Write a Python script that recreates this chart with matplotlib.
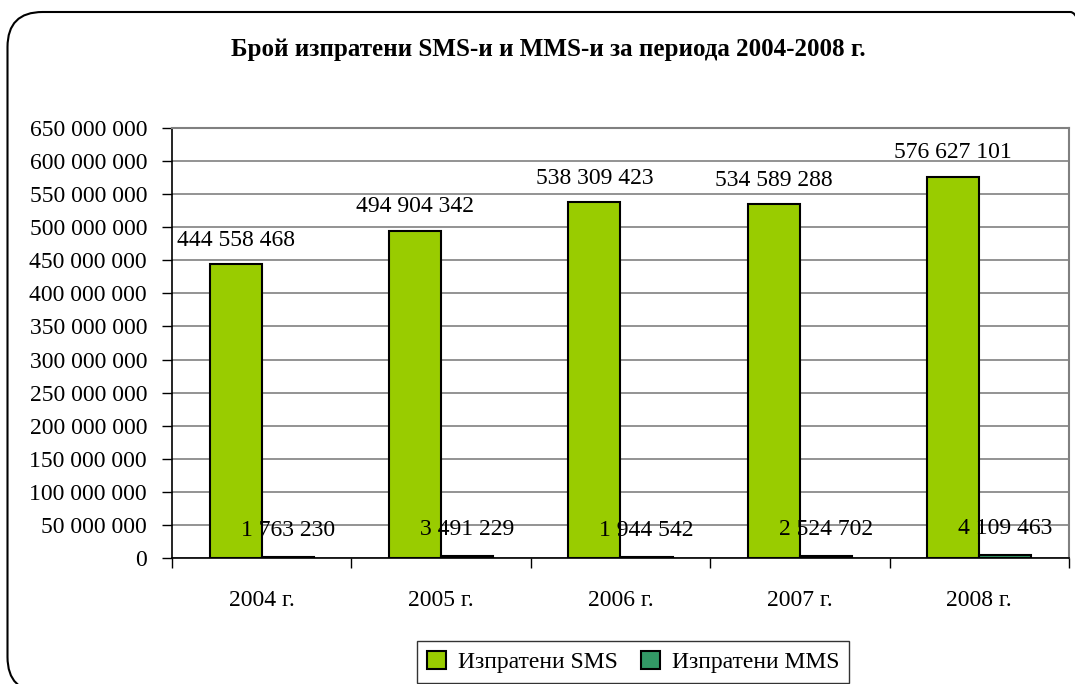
import matplotlib.pyplot as plt
import numpy as np
from matplotlib.patches import FancyBboxPatch
from matplotlib.ticker import FuncFormatter, FixedLocator

years = ["2004 г.", "2005 г.", "2006 г.", "2007 г.", "2008 г."]
sms = [444558468, 494904342, 538309423, 534589288, 576627101]
mms = [1763230, 3491229, 1944542, 2524702, 4109463]

SMS_COLOR = "#99CC00"
MMS_COLOR = "#339966"
FS = 17

plt.rcParams['font.family'] = ['Liberation Serif', 'DejaVu Serif']


def spaced(v, pos=None):
    return "{:,}".format(int(v)).replace(",", " ")


fig = plt.figure(figsize=(10.75, 6.84), dpi=100)
ax = fig.add_axes([0.16, 0.1842, 0.8344, 0.6287])

x = np.arange(len(years))
w = 0.29
b1 = ax.bar(x - w / 2, sms, w, color=SMS_COLOR, edgecolor="black", linewidth=1.5,
            label="Изпратени SMS", zorder=3)
b2 = ax.bar(x + w / 2, mms, w, color=MMS_COLOR, edgecolor="black", linewidth=1.5,
            label="Изпратени MMS", zorder=3)

for rect, v in zip(b1, sms):
    ax.annotate(spaced(v), (rect.get_x() + rect.get_width() / 2, v),
                xytext=(0, 17), textcoords="offset points",
                ha="center", va="center", fontsize=FS, zorder=5)
for rect, v in zip(b2, mms):
    ax.annotate(spaced(v), (rect.get_x() + rect.get_width() / 2, v),
                xytext=(0, 19), textcoords="offset points",
                ha="center", va="center", fontsize=FS, zorder=5)

ax.set_xlim(-0.5, len(years) - 0.5)
ax.set_ylim(0, 650000000)
ax.set_yticks(np.arange(0, 650000001, 50000000))
ax.yaxis.set_major_formatter(FuncFormatter(spaced))
ax.yaxis.grid(True, color="#808080", linewidth=1.2, zorder=0)

ax.set_xticks(x)
ax.set_xticklabels(years)
ax.xaxis.set_minor_locator(FixedLocator(np.arange(-0.5, len(years), 1.0)))
ax.tick_params(axis="x", which="major", length=0, pad=23, labelsize=FS)
ax.tick_params(axis="x", which="minor", length=7, width=1, direction="out")
ax.tick_params(axis="y", length=7, width=1, direction="out", pad=11, labelsize=FS)

ax.spines["top"].set_color("#808080")
ax.spines["right"].set_color("#808080")
ax.spines["top"].set_linewidth(1.5)
ax.spines["right"].set_linewidth(1.5)
ax.spines["left"].set_linewidth(1.2)
ax.spines["bottom"].set_linewidth(1.2)

fig.text(0.51, 0.927, "Брой изпратени SMS-и и MMS-и за периода 2004-2008 г.",
         ha="center", va="center", fontsize=18, fontweight="bold")

leg = fig.legend(handles=[b1, b2], loc="center", bbox_to_anchor=(0.589, 0.0325),
                 ncol=2, fontsize=FS, frameon=True, fancybox=False,
                 handlelength=0.8, handleheight=0.8, handletextpad=0.5,
                 columnspacing=1.0, borderpad=0.42, borderaxespad=0,
                 edgecolor="black")
leg.get_frame().set_linewidth(1.0)

frame = FancyBboxPatch((0.075, -0.08), 10.98, 6.8,
                       boxstyle="round,pad=0,rounding_size=0.35",
                       transform=fig.dpi_scale_trans, facecolor="none",
                       edgecolor="black", linewidth=1.5)
fig.add_artist(frame)

fig.savefig("out.png", dpi=100)
